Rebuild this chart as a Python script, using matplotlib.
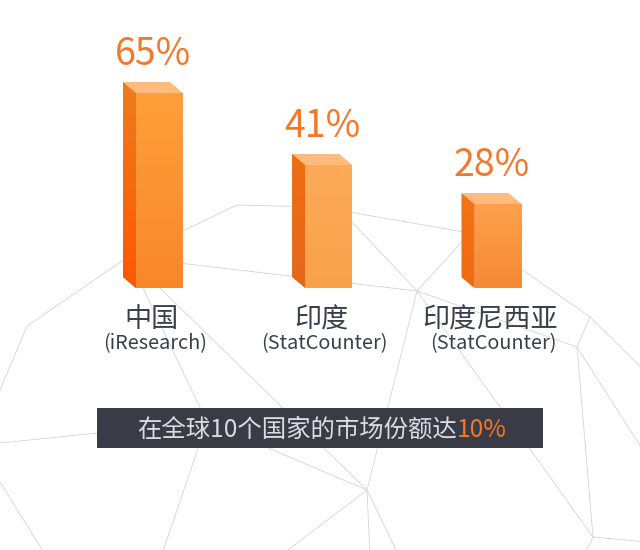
import matplotlib
matplotlib.use('Agg')
import matplotlib.pyplot as plt
import numpy as np
from matplotlib.patches import Polygon, Rectangle
from matplotlib.colors import LinearSegmentedColormap

plt.rcParams['font.family'] = ['Noto Sans CJK SC', 'DejaVu Sans']

# ---------------- data ----------------
categories = ['中国', '印度', '印度尼西亚']
sources = ['(iResearch)', '(StatCounter)', '(StatCounter)']
values = [65, 41, 28]
value_labels = ['65%', '41%', '28%']
banner_text = '在全球10个国家的市场份额达'
banner_value = '10%'

# ---------------- decorative background network (pixel space) ----------------
bg_nodes = {
    'L1': (27, 326), 'V1': (128, 257), 'A': (237, 205), 'V2': (320, 207),
    'V4': (470, 233), 'V3': (417, 291), 'V5': (367, 490), 'V6': (577, 347),
    'V7': (593, 537), 'V8': (590, 317), 'V9': (207, 422), 'H2': (335, 204),
    'e1': (0, 390), 'e2': (646, 372), 'e3': (646, 455), 'e4': (646, 542),
    'e5': (584, 556), 'e6': (0, 443), 'e7': (160, 560), 'e8': (280, 556),
    'e9': (370, 556), 'e10': (399, 556), 'e11': (0, 482), 'e12': (46, 556),
}
bg_edges = [
    ('L1', 'V1'), ('L1', 'e1'), ('V1', 'A'), ('A', 'V2'), ('V2', 'V4'),
    ('V1', 'V3'), ('V1', 'V9'), ('V1', 'V5'), ('V4', 'V3'), ('V4', 'V8'),
    ('H2', 'V3'), ('V3', 'V5'), ('V3', 'V6'), ('V3', 'V7'), ('V8', 'V6'),
    ('V8', 'e2'), ('V6', 'V7'), ('V6', 'e3'), ('V7', 'e4'), ('V7', 'e5'),
    ('V9', 'e6'), ('V9', 'e7'), ('V9', 'V5'), ('V5', 'e8'), ('V5', 'e9'),
    ('V5', 'e10'), ('e11', 'e12'),
]

W, H = 640, 550
fig = plt.figure(figsize=(W / 100, H / 100), dpi=100)
fig.patch.set_facecolor('white')

bg = fig.add_axes([0, 0, 1, 1])
bg.set_xlim(0, W)
bg.set_ylim(H, 0)
bg.axis('off')
for a, b in bg_edges:
    (x0, y0), (x1, y1) = bg_nodes[a], bg_nodes[b]
    bg.plot([x0, x1], [y0, y1], color='#d4d4d8', lw=0.6, zorder=1,
            solid_capstyle='butt')

# banner
bg.add_patch(Rectangle((97, 408), 446, 40, facecolor='#393b47',
                       edgecolor='none', zorder=5))
t1 = bg.text(0, 437, banner_text, color='#dcdcdf', fontsize=17.6,
             ha='left', va='baseline', zorder=6)
t2 = bg.text(0, 437, banner_value, color='#f4782a', fontsize=17.6,
             ha='left', va='baseline', zorder=6)
r = fig.canvas.get_renderer()
w1 = t1.get_window_extent(r).width
w2 = t2.get_window_extent(r).width
start = 322 - (w1 + w2) / 2
t1.set_x(start)
t2.set_x(start + w1)

# ---------------- bar axes ----------------
base_px = 288.0          # pixel row of value 0
px_per_unit = 3.0        # pixels per percent
x0_px, step_px = 159.5, 169.25
ax = fig.add_axes([0, (H - base_px) / H, 1, base_px / H])
ax.patch.set_alpha(0)
ax.axis('off')
xlim = (-x0_px / step_px, (W - x0_px) / step_px)
ylim = (0, base_px / px_per_unit)
ax.set_xlim(*xlim)
ax.set_ylim(*ylim)

bw = 47 / step_px
dx = -13 / step_px
dy = 11 / px_per_unit
xpos = np.arange(len(values))

front_cols = [('#fea03a', '#f8872a'), ('#fdab58', '#f9a04a'), ('#fda04c', '#f68a33')]
side_cols = [('#ee7c1c', '#ff5700'), ('#f26d10', '#e5661c'), ('#f57412', '#f16a10')]
top_col = '#ffbb7e'


def grad_fill(patch, extent, c_top, c_bot, z):
    cmap = LinearSegmentedColormap.from_list('g', [c_bot, c_top])
    grad = np.linspace(0, 1, 256).reshape(-1, 1)
    im = ax.imshow(grad, cmap=cmap, extent=extent, origin='lower',
                   aspect='auto', zorder=z, interpolation='bilinear')
    im.set_clip_path(patch)


bars = ax.bar(xpos, values, width=bw, color=[c[1] for c in front_cols],
              edgecolor='none', zorder=3)
for i, (bar, v) in enumerate(zip(bars, values)):
    xl = bar.get_x()
    xr = xl + bar.get_width()
    grad_fill(bar, (xl, xr, 0, v), front_cols[i][0], front_cols[i][1], 3.5)
    side = Polygon([(xl, 0), (xl, v), (xl + dx, v + dy), (xl + dx, dy)],
                   closed=True, facecolor=side_cols[i][1], edgecolor='none',
                   zorder=3)
    ax.add_patch(side)
    grad_fill(side, (xl + dx, xl, 0, v + dy), side_cols[i][0], side_cols[i][1], 3.5)
    top = Polygon([(xl, v), (xr, v), (xr + dx, v + dy), (xl + dx, v + dy)],
                  closed=True, facecolor=top_col, edgecolor='none', zorder=4)
    ax.add_patch(top)

    cx = bar.get_x() + bar.get_width() / 2 + dx / 2
    ax.annotate(value_labels[i], xy=(cx, v + dy), xytext=(0, 17),
                textcoords='offset pixels', ha='center', va='baseline',
                color='#f4782a', fontsize=27, annotation_clip=False)
    ax.annotate(categories[i], xy=(cx - 1 / step_px, 0), xytext=(0, -39),
                textcoords='offset pixels', ha='center', va='baseline',
                color='#3b3e4b', fontsize=19.5, annotation_clip=False)
    ax.annotate(sources[i], xy=(cx + 2 / step_px, 0), xytext=(0, -61),
                textcoords='offset pixels', ha='center', va='baseline',
                color='#3b3e4b', fontsize=14.3, annotation_clip=False)

ax.set_xlim(*xlim)
ax.set_ylim(*ylim)

fig.savefig('out.png', dpi=100, facecolor='white')
